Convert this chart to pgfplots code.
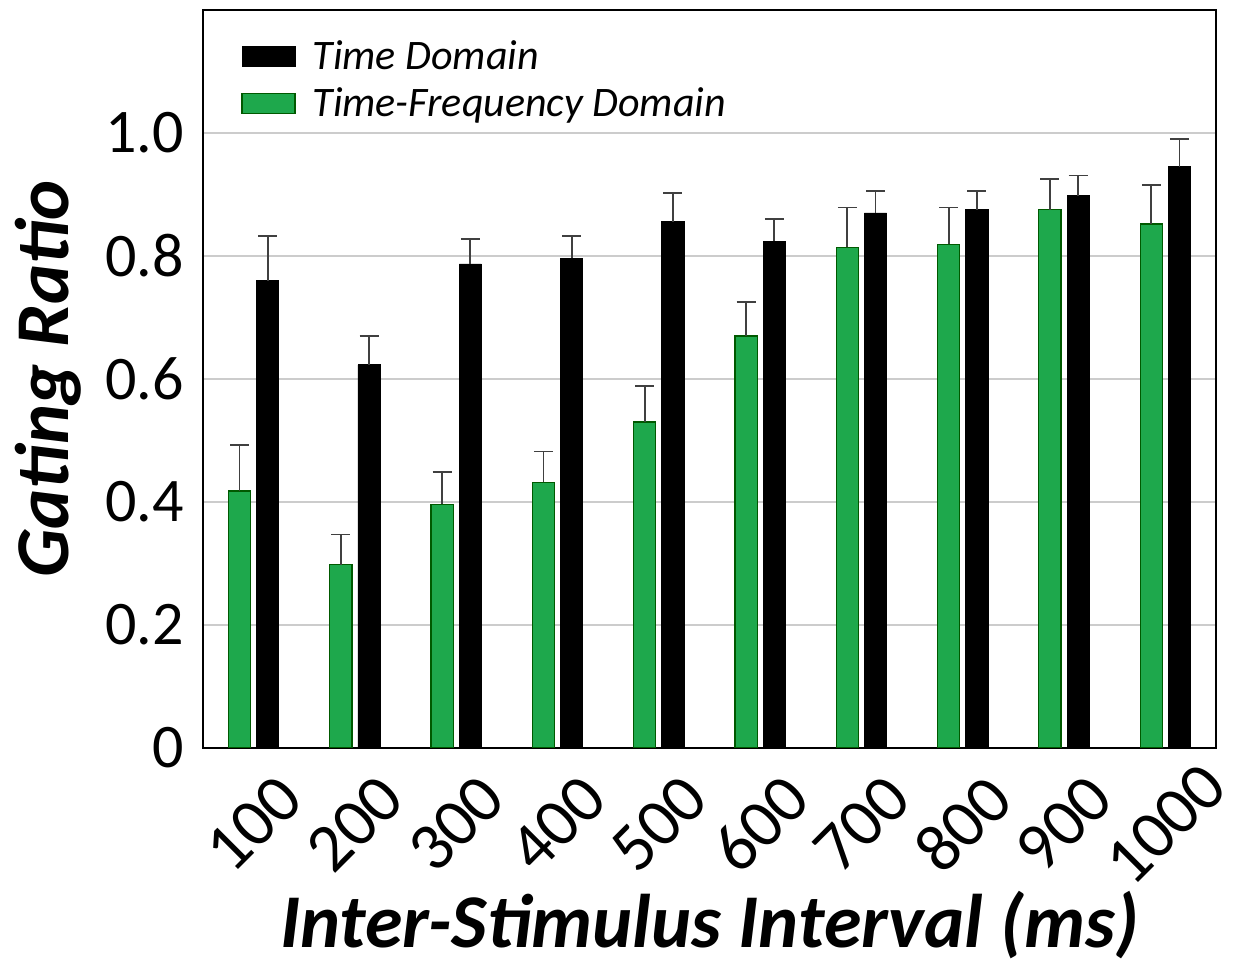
\documentclass[border=0pt]{standalone}
\usepackage{fontspec}
\setmainfont{Carlito}
\usepackage{pgfplots}
\usepackage{pgfplotstable}
\pgfplotsset{compat=1.18}
\definecolor{tfgreen}{RGB}{30,168,76}
\pgfplotstableread{
x g gerr b berr
0 0.418 0.075 0.760 0.073
1 0.298 0.049 0.623 0.047
2 0.396 0.053 0.787 0.040
3 0.432 0.050 0.796 0.037
4 0.530 0.059 0.856 0.046
5 0.670 0.055 0.824 0.036
6 0.814 0.065 0.870 0.036
7 0.819 0.060 0.875 0.031
8 0.875 0.050 0.898 0.033
9 0.852 0.063 0.945 0.045
}\datatable
\begin{document}
\begin{tikzpicture}
\useasboundingbox (-101.5pt,-114.5pt) rectangle (518.5pt,374pt);
\begin{axis}[
  at={(0pt,0pt)}, anchor=south west,
  scale only axis, width=506.5pt, height=369pt,
  ybar=3pt, bar width=11.1pt,
  xmin=-0.5, xmax=9.5, ymin=0, ymax=1.2,
  xtick={0,...,9},
  xticklabels={100,200,300,400,500,600,700,800,900,1000},
  ytick={0,0.2,0.4,0.6,0.8,1.0},
  yticklabels={0,0.2,0.4,0.6,0.8,1.0},
  major tick length=0pt,
  tick label style={font=\fontsize{31}{36}\selectfont},
  xticklabel style={yshift=-38pt, rotate=45, anchor=center, font=\fontsize{34}{38}\selectfont},
  yticklabel style={anchor=east, xshift=-6pt},
  ymajorgrids, grid style={black!20, line width=1pt},
  axis line style={black, line width=1pt},
  every axis y label/.style={at={(rel axis cs:0,0.5)}, xshift=-77.5pt, rotate=90, anchor=center},
  every axis x label/.style={at={(rel axis cs:0.5,0)}, yshift=-88.5pt, anchor=center},
  label style={font=\fontsize{38}{44}\selectfont\bfseries\itshape},
  ylabel={Gating Ratio},
  xlabel={Inter-Stimulus Interval (ms)},
  legend style={draw=none, fill=none, at={(0,1)}, anchor=north west,
    xshift=16pt, yshift=-11pt, font=\fontsize{21}{25}\selectfont\itshape,
    row sep=3.5pt},
  legend cell align=left,
  reverse legend,
  legend image code/.code={\draw[#1] (0pt,-5pt) rectangle (26.5pt,5pt); \path (33pt,0pt);},
]
\addplot[fill=tfgreen, draw=green!35!black, line width=0.6pt,
  error bars/.cd, y dir=plus, y explicit,
  error bar style={line width=0.9pt, draw=black!75},
  error mark options={rotate=90, line width=0.9pt, mark size=4.75pt, draw=black!75}]
  table[x=x, y=g, y error=gerr] {\datatable};
\addlegendentry{Time-Frequency Domain}
\addplot[fill=black, draw=black,
  error bars/.cd, y dir=plus, y explicit,
  error bar style={line width=0.9pt, draw=black!75},
  error mark options={rotate=90, line width=0.9pt, mark size=4.75pt, draw=black!75}]
  table[x=x, y=b, y error=berr] {\datatable};
\addlegendentry{Time Domain}
\end{axis}
\end{tikzpicture}
\end{document}
